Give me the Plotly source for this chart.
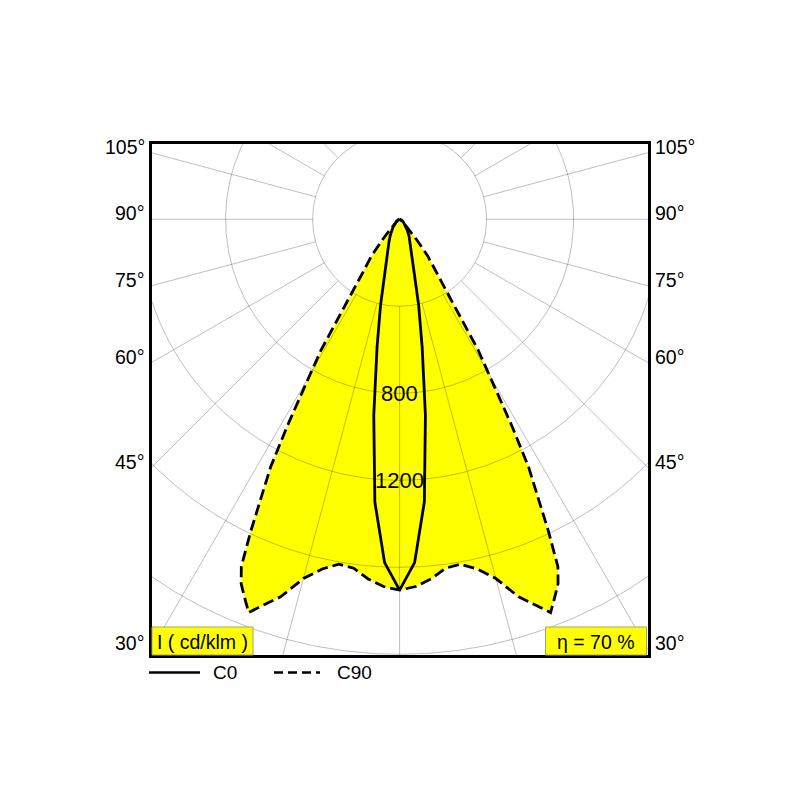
import numpy as np
import plotly.graph_objects as go

# ---------------- data (angle from nadir in degrees, intensity in cd/klm) ----------------
c0_angles = [0, 2.5, 5, 7.5, 10, 12.5, 15, 20, 25, 30, 35, 40, 50, 60, 70, 80, 90]
c0_values = [1705, 1580, 1305, 910, 597, 405, 263, 162, 116, 86, 61, 46, 25, 15, 8, 3, 0]

c90_angles = [0, 2.5, 5, 7.5, 10, 12.5, 15, 17.5, 20, 21, 22.5, 23.5, 24.5, 25.5,
              26.5, 27.5, 28.5, 30, 31, 32.5, 35, 37.5, 40, 42.5, 45, 50, 60, 75, 90]
c90_values = [1705, 1690, 1660, 1618, 1610, 1647, 1710, 1820, 1900, 1937, 1870, 1827, 1755, 1590,
              1420, 1285, 1085, 820, 700, 450, 283, 212, 120, 70, 40, 20, 8, 3, 0]

ring_values = [400, 800, 1200, 1600, 2000, 2400]
ring_label_values = [800, 1200]
spoke_angles = list(range(0, 360, 15))
angle_tick_labels = [30, 45, 60, 75, 90, 105]
unit_label = "I ( cd/klm )"
efficiency_label = "η = 70 %"
series_names = ["C0", "C90"]

# ---------------- layout geometry (pixels, in page coordinates) ----------------
W = H = 800
PAD = 8                         # default page body margin; figure starts at (8, 8)
S = 0.2175                      # px per cd/klm
OX, OY = 399.6, 219.3           # origin in page px
BX0, BX1, BY0, BY1 = 151.5, 647.8, 144.2, 655.3   # inner box edges (page px)

x_range = [-(OX - BX0) / S, (BX1 - OX) / S]
y_range = [-(BY1 - OY) / S, (OY - BY0) / S]

FONT = "Liberation Sans, Arial, sans-serif"


def px(x):
    return (x - PAD) / W


def py(y):
    return 1 - (y - PAD) / H


def polar_xy(angles, values):
    """Mirror a half-plane curve (0..90 deg) to the full C-plane and convert to x/y."""
    a = np.array(angles, dtype=float)
    v = np.array(values, dtype=float)
    a_full = np.concatenate([-a[::-1], a[1:]])
    v_full = np.concatenate([v[::-1], v[1:]])
    t = np.radians(a_full)
    return v_full * np.sin(t), -v_full * np.cos(t)


fig = go.Figure()

# yellow fill of C90 region
x90, y90 = polar_xy(c90_angles, c90_values)
fig.add_trace(go.Scatter(x=x90, y=y90, mode="lines", fill="toself",
                         fillcolor="#FFFF00", line=dict(width=0, color="#FFFF00"),
                         hoverinfo="skip", showlegend=False))

# grid: rings
grid_col = "rgba(0,0,0,0.32)"
tt = np.radians(np.linspace(0, 360, 721))
for r in ring_values:
    fig.add_trace(go.Scatter(x=r * np.sin(tt), y=-r * np.cos(tt), mode="lines",
                             line=dict(color=grid_col, width=0.8),
                             hoverinfo="skip", showlegend=False))
# grid: spokes
sx, sy = [], []
r_in, r_out = ring_values[0], 3000
for a in spoke_angles:
    t = np.radians(a)
    sx += [r_in * np.sin(t), r_out * np.sin(t), None]
    sy += [-r_in * np.cos(t), -r_out * np.cos(t), None]
fig.add_trace(go.Scatter(x=sx, y=sy, mode="lines", line=dict(color=grid_col, width=0.8),
                         hoverinfo="skip", showlegend=False))

# curves
x0, y0 = polar_xy(c0_angles, c0_values)
fig.add_trace(go.Scatter(x=x0, y=y0, mode="lines", name=series_names[0],
                         line=dict(color="black", width=2.8), showlegend=False))
fig.add_trace(go.Scatter(x=x90, y=y90, mode="lines", name=series_names[1],
                         line=dict(color="black", width=2.8, dash="11px,5px"),
                         showlegend=False))

annotations = []
# angle labels at both box edges
for a in angle_tick_labels:
    y_edge = -x_range[1] / np.tan(np.radians(a))
    for xp, anchor in [(px(BX0 - 5), "right"), (px(BX1 + 5), "left")]:
        annotations.append(dict(x=xp, xref="paper", y=y_edge, yref="y", text=f"{a}°",
                                showarrow=False, xanchor=anchor, yanchor="middle", yshift=6,
                                font=dict(family=FONT, size=19.5, color="black")))
# ring value labels
for v in ring_label_values:
    annotations.append(dict(x=0, y=-v, xref="x", yref="y", text=str(v), showarrow=False,
                            xanchor="center", yanchor="middle",
                            font=dict(family=FONT, size=22, color="black")))

shapes = []
# info boxes
boxes = [((152, 627, 253, 655), unit_label), ((545.5, 627, 646.5, 655), efficiency_label)]
for (x_a, y_a, x_b, y_b), txt in boxes:
    shapes.append(dict(type="rect", xref="paper", yref="paper",
                       x0=px(x_a), x1=px(x_b), y0=py(y_b), y1=py(y_a),
                       fillcolor="#FFFF00", line=dict(color="#a6a660", width=1), layer="above"))
    annotations.append(dict(x=px((x_a + x_b) / 2), y=py((y_a + y_b) / 2 + 1),
                            xref="paper", yref="paper", text=txt, showarrow=False,
                            xanchor="center", yanchor="middle",
                            font=dict(family=FONT, size=19.5, color="black")))

# legend (drawn manually under the box)
ly = py(672.5)
shapes.append(dict(type="line", xref="paper", yref="paper", x0=px(149), x1=px(200),
                   y0=ly, y1=ly, line=dict(color="black", width=2.5)))
shapes.append(dict(type="line", xref="paper", yref="paper", x0=px(274), x1=px(320),
                   y0=ly, y1=ly, line=dict(color="black", width=2.5, dash="9px,5px")))
annotations.append(dict(x=px(211), y=ly, xref="paper", yref="paper", text=series_names[0],
                        showarrow=False, xanchor="left", yanchor="middle",
                        font=dict(family=FONT, size=19, color="black")))
annotations.append(dict(x=px(335), y=ly, xref="paper", yref="paper", text=series_names[1],
                        showarrow=False, xanchor="left", yanchor="middle",
                        font=dict(family=FONT, size=19, color="black")))

axis_common = dict(showgrid=False, zeroline=False, showticklabels=False, ticks="",
                   showline=True, mirror=True, linecolor="black", linewidth=3,
                   fixedrange=True)
fig.update_layout(
    width=W, height=H, margin=dict(l=0, r=0, t=0, b=0),
    paper_bgcolor="white", plot_bgcolor="white",
    xaxis=dict(range=x_range, domain=[px(BX0), px(BX1)], **axis_common),
    yaxis=dict(range=y_range, domain=[py(BY1), py(BY0)], **axis_common),
    annotations=annotations, shapes=shapes, showlegend=False,
)

fig.write_html("out.html")
